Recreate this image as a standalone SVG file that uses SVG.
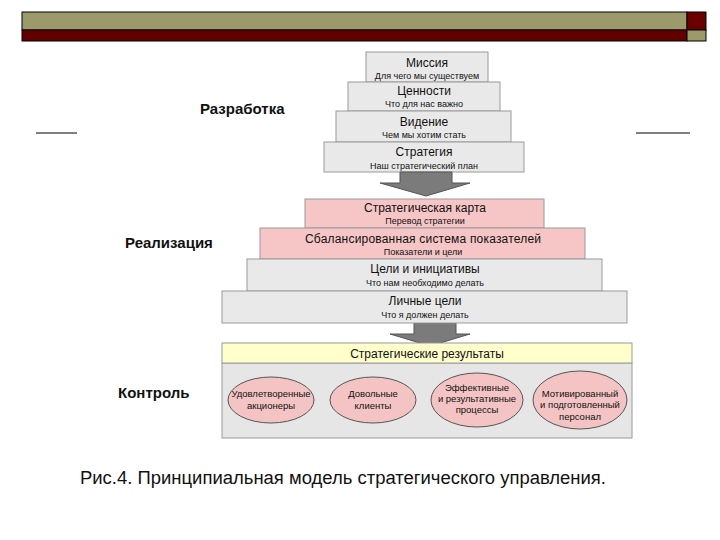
<svg xmlns="http://www.w3.org/2000/svg" width="720" height="540" viewBox="0 0 720 540">
<style>
text{font-family:"Liberation Sans",Arial,sans-serif;fill:#111;text-anchor:middle}
.box{fill:#e9e9e9;stroke:#9a9a9a;stroke-width:1}
.pink{fill:#f6c6c6;stroke:#9a9a9a;stroke-width:1}
.t{font-size:12px}
.s{font-size:9px}
.lbl{font-size:15px;font-weight:bold;text-anchor:start}
.arrow{fill:#7b7b7b;stroke:#555;stroke-width:1}
.ell{fill:#f4c4c4;stroke:#555;stroke-width:1}
.e{font-size:9.5px}
</style>
<rect width="720" height="540" fill="#fff"/>
<g id="header">
<rect x="22" y="12" width="665" height="18" fill="#9c9a6a" stroke="#000" stroke-width="1"/>
<rect x="22" y="30" width="665" height="11" fill="#620000" stroke="#000" stroke-width="1"/>
<rect x="687" y="12" width="19" height="18" fill="#6a0000" stroke="#000" stroke-width="1"/>
<rect x="687" y="30" width="19" height="11" fill="#9c9a6a" stroke="#000" stroke-width="1"/>
<line x1="36" y1="133" x2="77" y2="133" stroke="#000" stroke-width="1"/>
<line x1="636" y1="133" x2="690" y2="133" stroke="#000" stroke-width="1"/>
</g>
<g id="labels">
<text class="lbl" x="200" y="114">Разработка</text>
<text class="lbl" x="125" y="248">Реализация</text>
<text class="lbl" x="118" y="398">Контроль</text>
<text x="80" y="484" style="font-size:18px;text-anchor:start" textLength="526" lengthAdjust="spacingAndGlyphs">Рис.4. Принципиальная модель стратегического управления.</text>
</g>
<g id="mission">
<rect class="box" x="366" y="52" width="122" height="30"/>
<text class="t" x="427" y="67">Миссия</text>
<text class="s" x="427" y="79">Для чего мы существуем</text>
</g>
<g id="values">
<rect class="box" x="348" y="82" width="152" height="29"/>
<text class="t" x="424" y="95">Ценности</text>
<text class="s" x="424" y="107">Что для нас важно</text>
</g>
<g id="vision">
<rect class="box" x="336" y="111" width="175" height="31"/>
<text class="t" x="424" y="126">Видение</text>
<text class="s" x="424" y="138">Чем мы хотим стать</text>
</g>
<g id="strategy">
<rect class="box" x="324" y="142" width="200" height="30"/>
<text class="t" x="424" y="156">Стратегия</text>
<text class="s" x="424" y="169">Наш стратегический план</text>
</g>
<g id="connectors">
<polygon class="arrow" points="400,172 452,172 452,183 470,183 426,196 380,183 400,183"/>
<polygon class="arrow" points="414,323 456,323 456,334 470,334 430,346 390,334 414,334"/>
</g>
<g id="strategy-map">
<rect class="pink" x="305" y="199" width="239" height="29"/>
<text class="t" x="425" y="212">Стратегическая карта</text>
<text class="s" x="425" y="224">Перевод стратегии</text>
</g>
<g id="bsc">
<rect class="pink" x="260" y="228" width="325" height="31"/>
<text class="t" x="423" y="243" textLength="236">Сбалансированная система показателей</text>
<text class="s" x="423" y="255">Показатели и цели</text>
</g>
<g id="goals">
<rect class="box" x="247" y="259" width="355" height="32"/>
<text class="t" x="425" y="273">Цели и инициативы</text>
<text class="s" x="425" y="286">Что нам необходимо делать</text>
</g>
<g id="personal">
<rect class="box" x="222" y="291" width="405" height="32"/>
<text class="t" x="425" y="305">Личные цели</text>
<text class="s" x="425" y="318">Что я должен делать</text>
</g>
<g id="control">
<rect x="222" y="363" width="410" height="75" fill="#e6e6e6" stroke="#9a9a9a" stroke-width="1"/>
<rect x="222" y="343" width="410" height="20" fill="#ffffcc" stroke="#9a9a9a" stroke-width="1"/>
<text class="t" x="427" y="358">Стратегические результаты</text>
</g>
<g id="shareholders">
<ellipse class="ell" cx="271" cy="400" rx="43" ry="23"/>
<text class="e" x="271" y="397">Удовлетворенные</text>
<text class="e" x="271" y="409">акционеры</text>
</g>
<g id="clients">
<ellipse class="ell" cx="373" cy="400" rx="43" ry="23"/>
<text class="e" x="373" y="397">Довольные</text>
<text class="e" x="373" y="409">клиенты</text>
</g>
<g id="processes">
<ellipse class="ell" cx="477" cy="400" rx="46" ry="27"/>
<text class="e" x="477" y="391">Эффективные</text>
<text class="e" x="477" y="402">и результативные</text>
<text class="e" x="477" y="413">процессы</text>
</g>
<g id="staff">
<ellipse class="ell" cx="580" cy="400" rx="47" ry="29"/>
<text class="e" x="580" y="397">Мотивированный</text>
<text class="e" x="580" y="408">и подготовленный</text>
<text class="e" x="580" y="420">персонал</text>
</g>
</svg>
